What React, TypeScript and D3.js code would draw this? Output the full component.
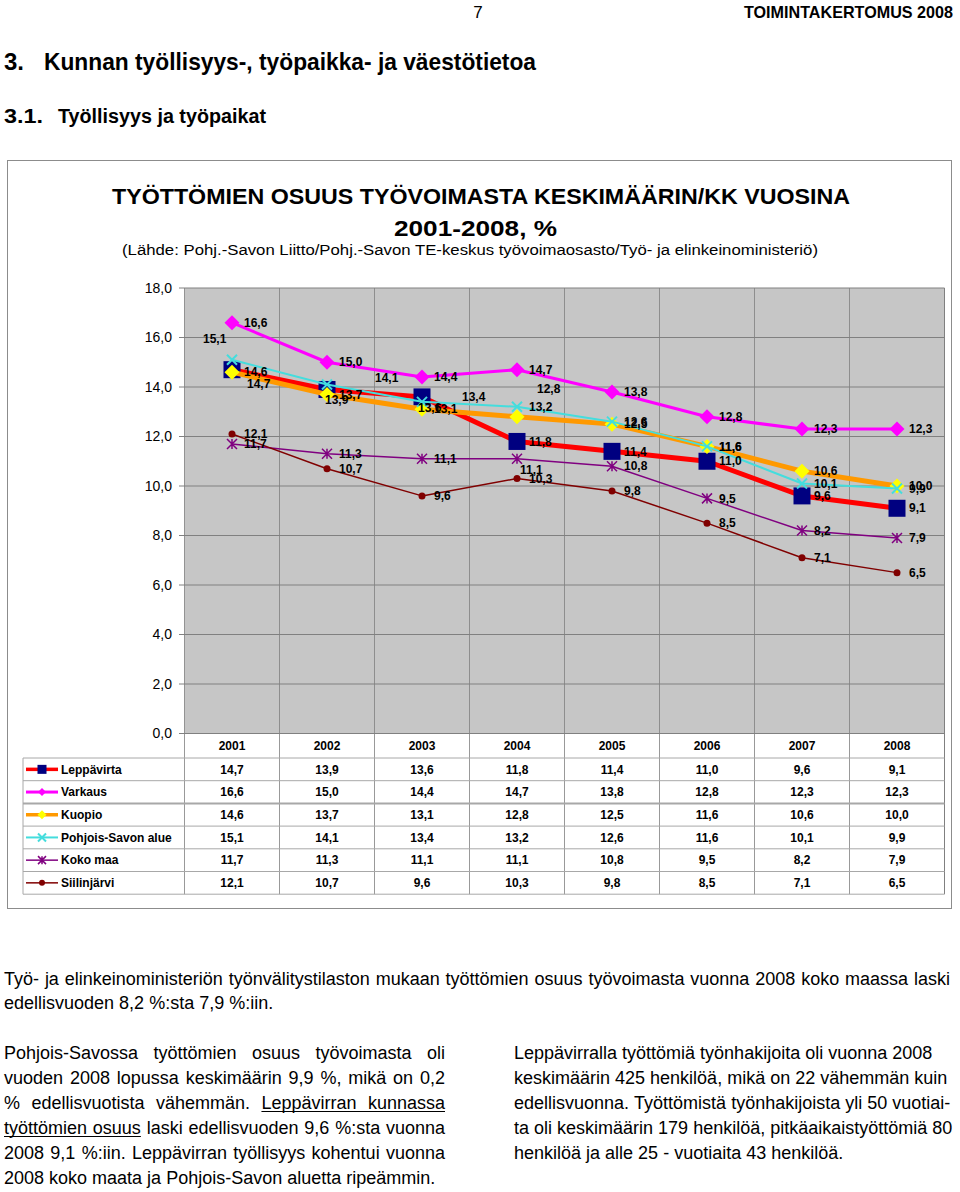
import React, { useEffect, useRef } from 'react';
import * as d3 from 'd3';

// chart data
const years = ['2001', '2002', '2003', '2004', '2005', '2006', '2007', '2008'];
const leppavirta = [14.7, 13.9, 13.6, 11.8, 11.4, 11.0, 9.6, 9.1];
const varkaus = [16.6, 15.0, 14.4, 14.7, 13.8, 12.8, 12.3, 12.3];
const kuopio = [14.6, 13.7, 13.1, 12.8, 12.5, 11.6, 10.6, 10.0];
const pohjoisSavo = [15.1, 14.1, 13.4, 13.2, 12.6, 11.6, 10.1, 9.9];
const kokoMaa = [11.7, 11.3, 11.1, 11.1, 10.8, 9.5, 8.2, 7.9];
const siilinjarvi = [12.1, 10.7, 9.6, 10.3, 9.8, 8.5, 7.1, 6.5];
const seriesNames = ['Leppävirta', 'Varkaus', 'Kuopio', 'Pohjois-Savon alue', 'Koko maa', 'Siilinjärvi'];
const yTicks = [0, 2, 4, 6, 8, 10, 12, 14, 16, 18];

const seriesValues = [leppavirta, varkaus, kuopio, pohjoisSavo, kokoMaa, siilinjarvi];

const seriesStyle = [
  { line: '#ff0000', width: 5, marker: 'square', fill: '#000080', size: 17, lsize: 9 },
  { line: '#ff00ff', width: 3, marker: 'diamond', fill: '#ff00ff', size: 15, lsize: 8 },
  { line: '#ff9900', width: 5, marker: 'diamond', fill: '#ffff00', size: 15, lsize: 9 },
  { line: '#44dddd', width: 2, marker: 'x', fill: '#44dddd', size: 10, lsize: 8 },
  { line: '#800080', width: 1.5, marker: 'star', fill: '#800080', size: 10, lsize: 8 },
  { line: '#800000', width: 1.5, marker: 'circle', fill: '#800000', size: 7, lsize: 6 },
];

// data labels that Excel moved away from the default right-hand spot
const labelNudge: Record<string, { dx: number; dy: number }> = {
  '0-0': { dx: 15, dy: 14 },
  '0-1': { dx: -2, dy: 10 },
  '0-2': { dx: -4, dy: 11 },
  '2-3': { dx: 20, dy: -28 },
  '3-0': { dx: -29, dy: -21 },
  '3-1': { dx: 48, dy: -7 },
  '3-2': { dx: 40, dy: -5 },
  '4-3': { dx: 3, dy: 11 },
};

const introLines = [
  'Työ- ja elinkeinoministeriön työnvälitystilaston mukaan työttömien osuus työvoimasta vuonna 2008 koko maassa laski',
  'edellisvuoden 8,2 %:sta 7,9 %:iin.',
];
const leftLines = [
  'Pohjois-Savossa työttömien osuus työvoimasta oli',
  'vuoden 2008 lopussa keskimäärin 9,9 %, mikä on 0,2',
  '% edellisvuotista vähemmän. Leppävirran kunnassa',
  'työttömien osuus laski edellisvuoden 9,6 %:sta vuonna',
  '2008 9,1 %:iin. Leppävirran työllisyys kohentui vuonna',
  '2008 koko maata ja Pohjois-Savon aluetta ripeämmin.',
];
const rightLines = [
  'Leppävirralla työttömiä työnhakijoita oli vuonna 2008',
  'keskimäärin 425 henkilöä, mikä on 22 vähemmän kuin',
  'edellisvuonna. Työttömistä työnhakijoista yli 50 vuotiai-',
  'ta oli keskimäärin 179 henkilöä, pitkäaikaistyöttömiä 80',
  'henkilöä ja alle 25 - vuotiaita 43 henkilöä.',
];

const FONT = 'Liberation Sans, Arial, Helvetica, sans-serif';
const NARROW = 'Liberation Sans Narrow, Arial Narrow, Liberation Sans, Arial, sans-serif';
const BODY_SIZE = 18;

const fmt = (v: number) => v.toFixed(1).replace('.', ',');

const Marker = ({ kind, cx, cy, size, color }: any) => {
  const h = size / 2;
  if (kind === 'square') return <rect x={cx - h} y={cy - h} width={size} height={size} fill={color} />;
  if (kind === 'diamond')
    return <path d={`M${cx},${cy - h}L${cx + h},${cy}L${cx},${cy + h}L${cx - h},${cy}Z`} fill={color} />;
  if (kind === 'x')
    return (
      <path d={`M${cx - h},${cy - h}L${cx + h},${cy + h}M${cx - h},${cy + h}L${cx + h},${cy - h}`}
        stroke={color} strokeWidth={2} fill="none" />
    );
  if (kind === 'star')
    return (
      <path d={`M${cx - h},${cy - h}L${cx + h},${cy + h}M${cx - h},${cy + h}L${cx + h},${cy - h}M${cx},${cy - h}L${cx},${cy + h}`}
        stroke={color} strokeWidth={1.5} fill="none" />
    );
  return <circle cx={cx} cy={cy} r={h} fill={color} />;
};

const App = () => {
  const textRef = useRef<SVGGElement>(null);

  const x = d3.scaleBand().domain(years).range([184.5, 944.5]);
  const y = d3.scaleLinear().domain([0, 18]).range([733.5, 288]);
  const cx = (yr: string) => (x(yr) as number) + x.bandwidth() / 2;
  const line = d3.line<number>().x((d, i) => cx(years[i])).y(d => y(d));

  const tableTop = 758;
  const rowH = 22.7;

  // body text: lay out word by word so justified lines can be spread
  useEffect(() => {
    const g = d3.select(textRef.current);
    g.selectAll('*').remove();
    const paras = [
      { lines: introLines, x: 4, y: 985, lh: 24, width: 946, justify: [true, false], under: {} as any },
      { lines: leftLines, x: 4, y: 1059, lh: 25, width: 441, justify: [true, true, true, true, true, false],
        under: { 2: [3, 4], 3: [0, 1] } as any },
      { lines: rightLines, x: 514, y: 1059, lh: 25, width: 436, justify: [false, false, false, false, false], under: {} as any },
    ];
    paras.forEach(p => {
      p.lines.forEach((ln, i) => {
        const yb = p.y + i * p.lh;
        const words = ln.split(' ').filter(Boolean);
        const nodes = words.map(w =>
          g.append('text').attr('y', yb).attr('font-family', FONT).attr('font-size', BODY_SIZE).attr('fill', '#000').text(w)
        );
        const widths = nodes.map(n => (n.node() as SVGTextElement).getComputedTextLength());
        const total = d3.sum(widths);
        const space = BODY_SIZE * 0.278;
        let gap = p.justify[i] && words.length > 1 ? (p.width - total) / (words.length - 1) : space;
        let squeeze = 1;
        if (gap < space * 0.6) {
          // line would run too long: keep a small gap and narrow the glyphs a little
          gap = space * 0.6;
          squeeze = (p.width - gap * (words.length - 1)) / total;
        }
        let px = p.x;
        const starts: number[] = [];
        nodes.forEach((n, k) => {
          const w = widths[k] * squeeze;
          n.attr('x', px);
          if (squeeze !== 1) n.attr('textLength', w).attr('lengthAdjust', 'spacingAndGlyphs');
          starts.push(px);
          widths[k] = w;
          px += w + gap;
        });
        const u = p.under[i];
        if (u) {
          const x0 = starts[u[0]];
          const x1 = starts[u[1]] + widths[u[1]];
          g.append('line').attr('x1', x0).attr('x2', x1).attr('y1', yb + 2.5).attr('y2', yb + 2.5)
            .attr('stroke', '#000').attr('stroke-width', 1.2);
        }
      });
    });
  }, []);

  return (
    <svg width={960} height={1192} style={{ position: 'absolute', left: 0, top: 0, background: '#fff' }}>
      {/* page header */}
      <text x={478} y={18} fontFamily={NARROW} fontSize={17} textAnchor="middle">7</text>
      <text x={744} y={18} fontFamily={NARROW} fontSize={17} fontWeight="bold" textLength={209} lengthAdjust="spacingAndGlyphs">
        TOIMINTAKERTOMUS 2008
      </text>
      <text x={4} y={70} fontFamily={NARROW} fontSize={24} fontWeight="bold">3.</text>
      <text x={44} y={70} fontFamily={NARROW} fontSize={24} fontWeight="bold" textLength={492} lengthAdjust="spacingAndGlyphs">
        Kunnan työllisyys-, työpaikka- ja väestötietoa
      </text>
      <text x={4} y={123} fontFamily={NARROW} fontSize={20} fontWeight="bold" textLength={39} lengthAdjust="spacingAndGlyphs">3.1.</text>
      <text x={58} y={123} fontFamily={NARROW} fontSize={20} fontWeight="bold" textLength={208} lengthAdjust="spacingAndGlyphs">
        Työllisyys ja työpaikat
      </text>

      {/* chart frame */}
      <rect x={7.5} y={160.5} width={944} height={748} fill="#fff" stroke="#8c8c8c" />
      <text x={112} y={204} fontFamily={FONT} fontSize={22} fontWeight="bold" textLength={738} lengthAdjust="spacingAndGlyphs">
        TYÖTTÖMIEN OSUUS TYÖVOIMASTA KESKIMÄÄRIN/KK VUOSINA
      </text>
      <text x={394} y={236} fontFamily={FONT} fontSize={22} fontWeight="bold" textLength={163} lengthAdjust="spacingAndGlyphs">
        2001-2008, %
      </text>
      <text x={122} y={255} fontFamily={FONT} fontSize={14} textLength={696} lengthAdjust="spacingAndGlyphs">
        (Lähde: Pohj.-Savon Liitto/Pohj.-Savon TE-keskus työvoimaosasto/Työ- ja elinkeinoministeriö)
      </text>

      {/* plot area */}
      <rect x={184.5} y={288} width={760} height={445.5} fill="#c6c6c6" />
      {yTicks.map(t => (
        <g key={t}>
          <line x1={179} x2={944.5} y1={y(t)} y2={y(t)} stroke="#808080" />
          <text x={172} y={y(t)} dy="0.35em" textAnchor="end" fontFamily={FONT} fontSize={14}>{fmt(t)}</text>
        </g>
      ))}
      {years.map(yr => (
        <line key={yr} x1={x(yr)} x2={x(yr)} y1={288} y2={tableTop + rowH * 6} stroke="#808080" strokeOpacity={0.8} />
      ))}
      <line x1={944.5} x2={944.5} y1={288} y2={tableTop + rowH * 6} stroke="#808080" />
      <line x1={184.5} x2={944.5} y1={733.5} y2={733.5} stroke="#808080" />

      {/* series */}
      {seriesValues.map((vals, si) => {
        const st = seriesStyle[si];
        return (
          <g key={si}>
            <path d={line(vals) as string} fill="none" stroke={st.line} strokeWidth={st.width} strokeLinejoin="round" />
            {vals.map((v, i) => (
              <Marker key={i} kind={st.marker} cx={cx(years[i])} cy={y(v)} size={st.size} color={st.fill} />
            ))}
          </g>
        );
      })}
      {/* data labels */}
      {seriesValues.map((vals, si) =>
        vals.map((v, i) => {
          const n = labelNudge[`${si}-${i}`] || { dx: 12, dy: 0 };
          return (
            <text key={`${si}-${i}`} x={cx(years[i]) + n.dx} y={y(v) + n.dy} dy="0.35em"
              fontFamily={FONT} fontSize={12} fontWeight="bold">
              {fmt(v)}
            </text>
          );
        })
      )}

      {/* data table */}
      {years.map(yr => (
        <text key={yr} x={cx(yr)} y={746} dy="0.35em" textAnchor="middle" fontFamily={FONT} fontSize={12} fontWeight="bold">
          {yr}
        </text>
      ))}
      {d3.range(7).map(k => (
        <line key={k} x1={23} x2={944.5} y1={tableTop + k * rowH} y2={tableTop + k * rowH}
          stroke="#a8a8a8" strokeWidth={k === 2 ? 2 : 1} />
      ))}
      <line x1={23} x2={23} y1={tableTop} y2={tableTop + rowH * 6} stroke="#a8a8a8" />
      {seriesValues.map((vals, si) => {
        const st = seriesStyle[si];
        const ry = tableTop + rowH * si + rowH / 2;
        return (
          <g key={si}>
            <line x1={26} x2={58} y1={ry} y2={ry} stroke={st.line} strokeWidth={Math.min(st.width, 3.5)} />
            <Marker kind={st.marker} cx={42} cy={ry} size={st.lsize} color={st.fill} />
            <text x={61} y={ry} dy="0.35em" fontFamily={FONT} fontSize={12} fontWeight="bold">{seriesNames[si]}</text>
            {vals.map((v, i) => (
              <text key={i} x={cx(years[i])} y={ry} dy="0.35em" textAnchor="middle" fontFamily={FONT} fontSize={12} fontWeight="bold">
                {fmt(v)}
              </text>
            ))}
          </g>
        );
      })}

      {/* body text */}
      <g ref={textRef} />
    </svg>
  );
};

export default App;
